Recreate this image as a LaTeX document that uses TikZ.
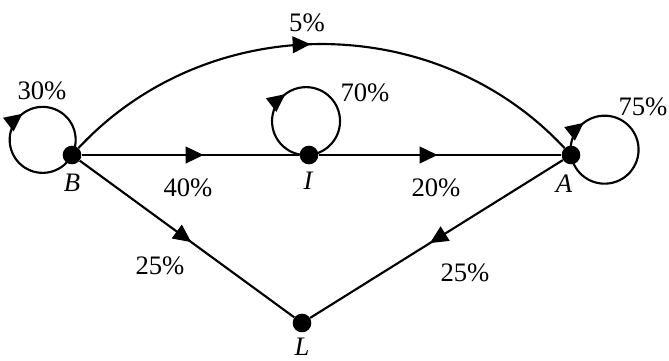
\documentclass[tikz,border=0pt]{standalone}
\usepackage{fontspec}
\setmainfont{Liberation Serif}
\usetikzlibrary{arrows.meta,decorations.markings}
\begin{document}
\begin{tikzpicture}[x=0.75pt,y=0.75pt,
  dot/.style={circle,fill=black,minimum size=14pt,inner sep=0pt},
  edge/.style={line width=1.6pt},
  lbl/.style={font=\fontsize{20}{24}\selectfont,inner sep=0pt},
  vlbl/.style={font=\fontsize{20}{24}\selectfont\itshape,inner sep=0pt},
  midarrow/.style={postaction={decorate},decoration={markings,mark=at position #1 with {\arrow{Triangle[length=13.5pt,width=12.5pt]}}}}]
\useasboundingbox (0,0) rectangle (669,361);
\node[dot] (B) at (72,206) {};
\node[dot] (I) at (309,206) {};
\node[dot] (A) at (571,206) {};
\node[dot] (L) at (302,38) {};
% edges
\draw[edge,midarrow=0.48] (B) to[bend left=47] (A);
\draw[edge,midarrow=0.56] (B) -- (I);
\draw[edge,midarrow=0.49] (I) -- (A);
\draw[edge,midarrow=0.52] (B) -- (L);
\draw[edge,midarrow=0.526] (A) -- (L);
% loops
\draw[edge,midarrow=0.57] (B) arc[start angle=-27.3, end angle=-387.3, radius=33];
\draw[edge,midarrow=0.41] (I) arc[start angle=-85, end angle=-445, radius=34];
\draw[edge,midarrow=0.17] (A) arc[start angle=189, end angle=-171, radius=34];
% labels
\node[lbl] (l30) at (42,270) {30\%};
\node[lbl] (l70) at (365,268) {70\%};
\node[lbl] (l75) at (643,254) {75\%};
\node[lbl] (l5) at (307,338) {5\%};
\node[lbl] (l40) at (188,173) {40\%};
\node[lbl] (l20) at (436,173) {20\%};
\node[lbl] (l25a) at (160,95) {25\%};
\node[lbl] (l25b) at (465,88) {25\%};
\node[vlbl] (tB) at (72,178) {B};
\node[vlbl] (tI) at (308,180) {I};
\node[vlbl] (tA) at (564,177) {A};
\node[vlbl] (tL) at (302,14) {L};
\end{tikzpicture}
\end{document}
